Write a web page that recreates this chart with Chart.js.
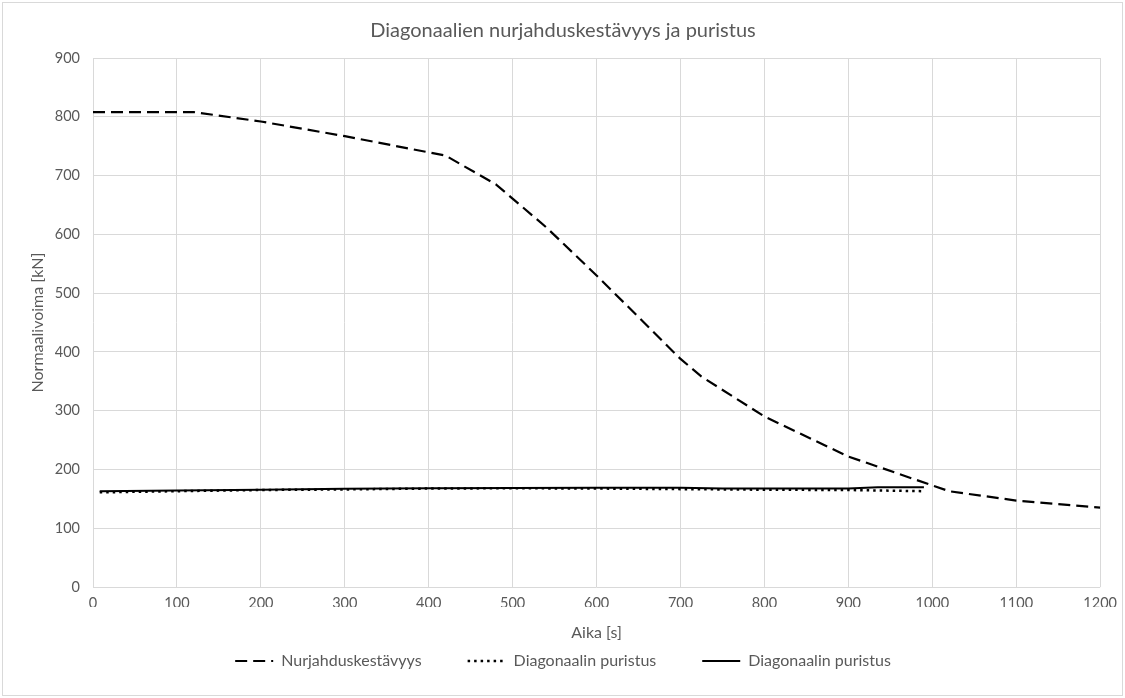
<!DOCTYPE html>
<html lang="fi">
<head>
    <meta charset="UTF-8">
    <title>Diagonaalien nurjahduskestävyys ja puristus</title>
    <script src="https://cdn.jsdelivr.net/npm/chart.js"></script>
    <style>
        body {
            margin: 0;
            padding: 0;
            background-color: #fff;
        }
        .wrap {
            width: 1125px;
            height: 698px;
            position: relative;
        }
    </style>
</head>
<body>
    <div class="wrap">
        <canvas id="chart" width="1125" height="698"></canvas>
    </div>

    <script>
        // Nurjahduskestävyys [kN] ajan funktiona
        const nurjahdusAika = [0, 120, 200, 300, 420, 480, 540, 600, 660, 700, 725, 800, 900, 1020, 1100, 1200];
        const nurjahdusArvo = [808, 808, 792, 767, 734, 685, 612, 530, 445, 388, 358, 290, 222, 163, 147, 135];

        // Diagonaalin puristus (pisteviiva)
        const puristus1Aika = [8, 100, 200, 300, 400, 500, 600, 700, 800, 900, 990];
        const puristus1Arvo = [161, 163, 165, 166, 167.5, 168, 167.5, 166.5, 165.5, 165, 163];

        // Diagonaalin puristus (yhtenäinen viiva)
        const puristus2Aika = [8, 100, 200, 300, 400, 500, 600, 700, 750, 900, 935, 990];
        const puristus2Arvo = [163, 164, 165.5, 167, 168, 168.5, 169, 169, 167.5, 167.5, 169.5, 169.5];

        const xTicks = [0, 100, 200, 300, 400, 500, 600, 700, 800, 900, 1000, 1100, 1200];
        const yTicks = [0, 100, 200, 300, 400, 500, 600, 700, 800, 900];

        const pisteet = (xs, ys) => xs.map((x, i) => ({ x: x, y: ys[i] }));

        const harmaa = '#595959';
        const fontti = "Lato, 'Open Sans', sans-serif";

        // kehys kaavion ympärille
        const kehys = {
            id: 'kehys',
            beforeDraw(chart) {
                const ctx = chart.ctx;
                ctx.save();
                ctx.fillStyle = '#fff';
                ctx.fillRect(0, 0, chart.width, chart.height);
                ctx.strokeStyle = '#d9d9d9';
                ctx.lineWidth = 1;
                ctx.strokeRect(2.5, 2.5, chart.width - 5, chart.height - 5);
                ctx.restore();
            }
        };

        new Chart(document.getElementById('chart'), {
            type: 'scatter',
            data: {
                datasets: [
                    {
                        label: 'Nurjahduskestävyys',
                        data: pisteet(nurjahdusAika, nurjahdusArvo),
                        showLine: true,
                        borderColor: '#000',
                        backgroundColor: '#000',
                        borderWidth: 2.2,
                        borderDash: [12, 6],
                        pointRadius: 0,
                        tension: 0
                    },
                    {
                        label: 'Diagonaalin puristus',
                        data: pisteet(puristus1Aika, puristus1Arvo),
                        showLine: true,
                        borderColor: '#000',
                        backgroundColor: '#000',
                        borderWidth: 2.5,
                        borderDash: [2.5, 4],
                        pointRadius: 0,
                        tension: 0
                    },
                    {
                        label: 'Diagonaalin puristus',
                        data: pisteet(puristus2Aika, puristus2Arvo),
                        showLine: true,
                        borderColor: '#000',
                        backgroundColor: '#000',
                        borderWidth: 2,
                        pointRadius: 0,
                        tension: 0
                    }
                ]
            },
            options: {
                responsive: false,
                animation: false,
                layout: {
                    padding: { left: 24, right: 23, top: 0, bottom: 19 }
                },
                plugins: {
                    title: {
                        display: true,
                        text: 'Diagonaalien nurjahduskestävyys ja puristus',
                        color: harmaa,
                        font: { family: fontti, size: 20, weight: 'normal' },
                        padding: { top: 19, bottom: 15 }
                    },
                    legend: {
                        position: 'bottom',
                        labels: {
                            color: harmaa,
                            font: { family: fontti, size: 16 },
                            usePointStyle: true,
                            pointStyle: 'line',
                            pointStyleWidth: 38,
                            boxHeight: 16,
                            padding: 46,
                            // viivatyylit suoraan datasarjoista
                            generateLabels(chart) {
                                const items = Chart.defaults.plugins.legend.labels.generateLabels(chart);
                                items.forEach(it => {
                                    const ds = chart.data.datasets[it.datasetIndex];
                                    it.lineDash = ds.borderDash || [];
                                    it.lineWidth = ds.borderWidth;
                                    it.strokeStyle = ds.borderColor;
                                    it.pointStyle = 'line';
                                });
                                return items;
                            }
                        }
                    },
                    tooltip: { enabled: false }
                },
                scales: {
                    x: {
                        type: 'linear',
                        min: 0,
                        max: 1200,
                        afterBuildTicks: s => { s.ticks = xTicks.map(v => ({ value: v })); },
                        afterFit: s => { s.height = 20; },
                        grid: { color: '#d9d9d9', drawTicks: false },
                        border: { display: false },
                        ticks: {
                            color: harmaa,
                            padding: 8,
                            maxRotation: 0,
                            font: { family: fontti, size: 14.5 },
                            callback: v => String(v)
                        },
                        title: {
                            display: true,
                            text: 'Aika [s]',
                            color: harmaa,
                            font: { family: fontti, size: 16 },
                            padding: { top: 0, bottom: -35 }
                        }
                    },
                    y: {
                        min: 0,
                        max: 900,
                        afterBuildTicks: s => { s.ticks = yTicks.map(v => ({ value: v })); },
                        afterFit: s => { s.width = 69; },
                        grid: { color: '#d9d9d9', drawTicks: false },
                        border: { display: false },
                        ticks: {
                            color: harmaa,
                            padding: 13,
                            font: { family: fontti, size: 14.5 },
                            callback: v => String(v)
                        },
                        title: {
                            display: true,
                            text: 'Normaalivoima [kN]',
                            color: harmaa,
                            font: { family: fontti, size: 16 },
                            padding: { top: 4, bottom: 0 }
                        }
                    }
                }
            },
            plugins: [kehys]
        });
    </script>
</body>
</html>
